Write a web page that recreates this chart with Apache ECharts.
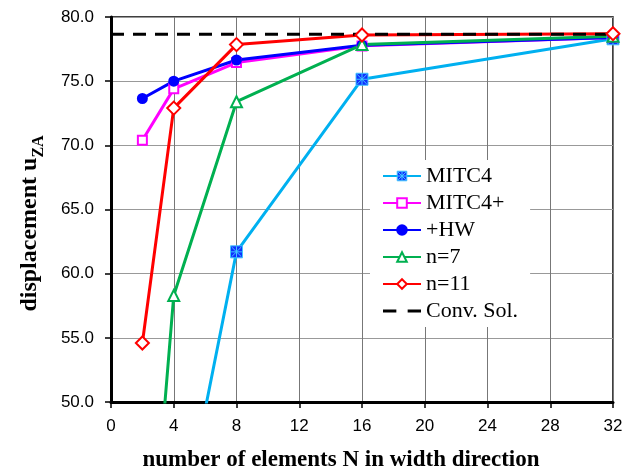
<!DOCTYPE html>
<html>
<head>
<meta charset="utf-8">
<script src="https://cdn.jsdelivr.net/npm/echarts@6/dist/echarts.min.js"></script>
<style>
html,body{margin:0;padding:0;background:#fff;}
#c{width:637px;height:470px;}
</style>
</head>
<body>
<div id="c"></div>
<script>
// ---- data ----
const N = [2, 4, 8, 16, 32];
const mitc4 = [null, 37.1, 61.7, 75.15, 78.3];
const mitc4p = [70.4, 74.4, 76.45, 77.75, 78.4];
const hw = [73.65, 75.0, 76.65, 77.8, 78.4];
const n7 = [28.6, 58.3, 73.4, 77.85, 78.5];
const n11 = [54.6, 72.9, 77.85, 78.6, 78.7];
const convX = [0, 32];
const convY = [78.65, 78.65];
const seriesNames = ['MITC4', 'MITC4+', '+HW', 'n=7', 'n=11', 'Conv. Sol.'];
const xTitle = 'number of elements N in width direction';
const yTitleMain = 'displacement u';
const yTitleSub = 'ZA';

function pairs(xs, ys) { return xs.map((x, i) => [x, ys[i]]); }

const serif = '"Liberation Serif", "Times New Roman", serif';
const sans = '"Liberation Sans", Arial, sans-serif';

const mitc4Symbol = 'path://M0,0L10,0L10,10L0,10Z M1,1L9,9 M9,1L1,9 M5,0.5L5,9.5 M0.5,5L9.5,5';
const mitc4Item = {color: '#1030FF', borderColor: '#40C8FF', borderWidth: 1};

const chart = echarts.init(document.getElementById('c'), null, {renderer: 'canvas'});
const mk = (name, data, color, symbol, size, fill, extra) => Object.assign({
  name: name, type: 'line', data: data, symbol: symbol, symbolSize: size,
  showAllSymbol: true,
  lineStyle: {color: color, width: 3},
  itemStyle: {color: fill, borderColor: color, borderWidth: 2},
  emphasis: {disabled: true}, animation: false
}, extra || {});

chart.setOption({
  animation: false,
  grid: {left: 111, right: 24, top: 17, bottom: 68, containLabel: false, outerBoundsMode: 'none',
    show: true, borderColor: '#000', borderWidth: 1.5, backgroundColor: 'transparent'},
  xAxis: {
    type: 'value', min: 0, max: 32, interval: 4,
    name: xTitle, nameLocation: 'middle', nameGap: 47,
    nameTextStyle: {fontFamily: serif, fontWeight: 'bold', fontSize: 23, color: '#000', padding: [0, 42, 0, 0]},
    axisLine: {show: true, onZero: false, lineStyle: {color: '#000', width: 3}},
    axisTick: {show: true, inside: false, length: 6, lineStyle: {color: '#000', width: 1.5}},
    axisLabel: {fontFamily: sans, fontSize: 17, color: '#000', margin: 16},
    splitLine: {show: true, lineStyle: {color: '#777', width: 1}}
  },
  yAxis: {
    type: 'value', min: 50, max: 80, interval: 5,
    name: '{a|' + yTitleMain + '}{b|' + yTitleSub + '}', nameLocation: 'middle', nameGap: 64, nameRotate: 90,
    nameTextStyle: {
      fontFamily: serif, fontWeight: 'bold', fontSize: 24, color: '#000', padding: [0, 28, 0, 0],
      rich: {
        a: {fontFamily: serif, fontWeight: 'bold', fontSize: 24, color: '#000', lineHeight: 34},
        b: {fontFamily: serif, fontWeight: 'bold', fontSize: 16, color: '#000', verticalAlign: 'bottom', lineHeight: 16}
      }
    },
    axisLine: {show: true, onZero: false, lineStyle: {color: '#000', width: 3}},
    axisTick: {show: true, inside: false, length: 6, lineStyle: {color: '#000', width: 1.5}},
    axisLabel: {fontFamily: sans, fontSize: 17, color: '#000', margin: 17, formatter: v => v.toFixed(1)},
    splitLine: {show: true, lineStyle: {color: '#999', width: 1}}
  },
  legend: {
    show: true, orient: 'vertical', left: 370, top: 160, width: 162,
    backgroundColor: '#fff', padding: [5, 12, 5, 12],
    itemWidth: 38, itemHeight: 12, itemGap: 5, symbolKeepAspect: true,
    textStyle: {fontFamily: serif, fontSize: 22, color: '#000', lineHeight: 22},
    data: [
      {name: seriesNames[0], itemStyle: mitc4Item},
      seriesNames[1], seriesNames[2], seriesNames[3], seriesNames[4],
      {name: seriesNames[5], icon: 'path://M0,0L13,0L13,3L0,3Z M24,0L37,0L37,3L24,3Z', itemStyle: {color: '#000', borderWidth: 0}}
    ]
  },
  series: [
    mk(seriesNames[0], pairs(N, mitc4), '#00B0F0', mitc4Symbol, 12, '#1030FF', {itemStyle: mitc4Item}),
    mk(seriesNames[1], pairs(N, mitc4p), '#FF00FF', 'rect', 9, '#fff'),
    mk(seriesNames[2], pairs(N, hw), '#0000FF', 'circle', 9, '#0000FF'),
    mk(seriesNames[3], pairs(N, n7), '#00B050', 'triangle', 11, '#fff'),
    mk(seriesNames[4], pairs(N, n11), '#FF0000', 'diamond', 13, '#fff'),
    {
      name: seriesNames[5], type: 'line', data: pairs(convX, convY), symbol: 'none',
      lineStyle: {color: '#000', width: 3, type: [13, 9]},
      itemStyle: {color: '#000'}, emphasis: {disabled: true}, animation: false
    }
  ]
});
</script>
</body>
</html>
